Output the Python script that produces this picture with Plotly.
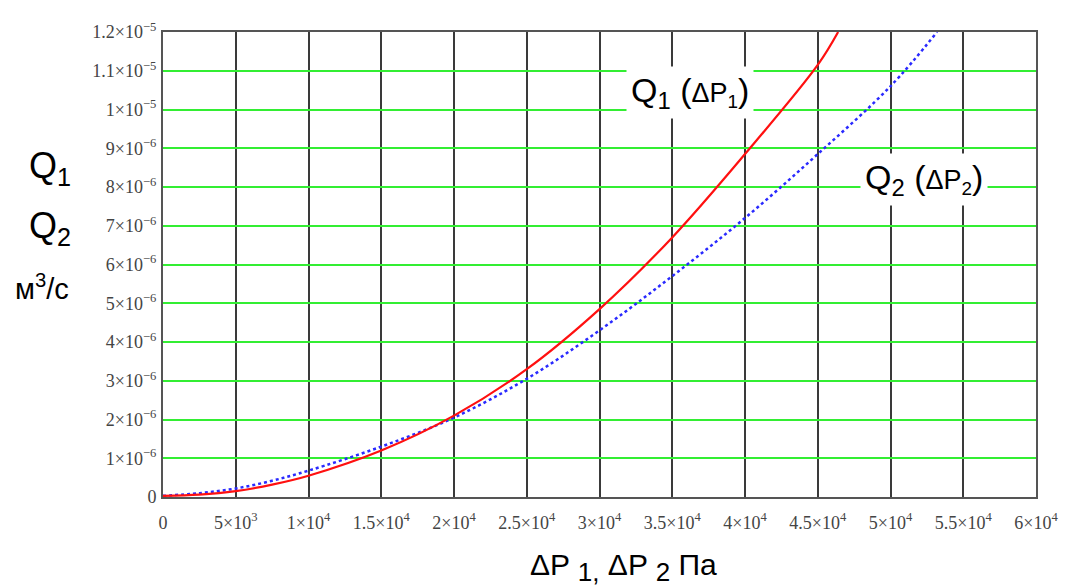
import plotly.graph_objects as go

# Data
dp1 = [0, 2500, 5000, 7500, 10000, 15000, 20000, 25000, 30000, 35000, 40000, 45000, 46400]
q1 = [0.03e-6, 0.06e-6, 0.15e-6, 0.32e-6, 0.55e-6, 1.2e-6, 2.1e-6, 3.3e-6, 4.85e-6, 6.7e-6, 8.85e-6, 11.15e-6, 12.0e-6]

dp2 = [0, 2500, 5000, 7500, 10000, 15000, 20000, 25000, 30000, 35000, 40000, 45000, 50000, 53200]
q2 = [0.03e-6, 0.1e-6, 0.22e-6, 0.42e-6, 0.68e-6, 1.3e-6, 2.05e-6, 3.05e-6, 4.3e-6, 5.7e-6, 7.2e-6, 8.85e-6, 10.6e-6, 12.0e-6]

x_tickvals = [0, 5000, 10000, 15000, 20000, 25000, 30000, 35000, 40000, 45000, 50000, 55000, 60000]
x_ticktext = ["0", "5×10<sup>3</sup>", "1×10<sup>4</sup>", "1.5×10<sup>4</sup>", "2×10<sup>4</sup>",
              "2.5×10<sup>4</sup>", "3×10<sup>4</sup>", "3.5×10<sup>4</sup>", "4×10<sup>4</sup>",
              "4.5×10<sup>4</sup>", "5×10<sup>4</sup>", "5.5×10<sup>4</sup>", "6×10<sup>4</sup>"]

y_tickvals = [0, 1e-6, 2e-6, 3e-6, 4e-6, 5e-6, 6e-6, 7e-6, 8e-6, 9e-6, 1e-5, 1.1e-5, 1.2e-5]
y_ticktext = ["0", "1×10<sup>−6</sup>", "2×10<sup>−6</sup>", "3×10<sup>−6</sup>", "4×10<sup>−6</sup>",
              "5×10<sup>−6</sup>", "6×10<sup>−6</sup>", "7×10<sup>−6</sup>", "8×10<sup>−6</sup>",
              "9×10<sup>−6</sup>", "1×10<sup>−5</sup>", "1.1×10<sup>−5</sup>", "1.2×10<sup>−5</sup>"]

fig = go.Figure()
fig.add_trace(go.Scatter(x=dp2, y=q2, mode="lines", line=dict(color="#2a2aff", width=2.5, dash="dot", shape="spline"),
                         showlegend=False))
fig.add_trace(go.Scatter(x=dp1, y=q1, mode="lines", line=dict(color="#ff1010", width=2.2, shape="spline"),
                         showlegend=False))

tickfont = dict(family="Liberation Serif", size=18, color="#444")
fig.update_xaxes(range=[0, 60000], tickvals=x_tickvals, ticktext=x_ticktext, tickfont=tickfont,
                 showgrid=True, gridcolor="#3a3a3a", gridwidth=1.5, zeroline=False,
                 showline=True, linecolor="#555", linewidth=2, mirror=True, ticks="", ticklabelstandoff=8)
fig.update_yaxes(range=[0, 1.2e-5], tickvals=y_tickvals, ticktext=y_ticktext, tickfont=tickfont,
                 showgrid=True, gridcolor="#33ee33", gridwidth=2, zeroline=False,
                 showline=True, linecolor="#555", linewidth=2, mirror=True, ticks="", ticklabelstandoff=1)

# plot area in page pixels (body offset of 8px included)
PL, PR, PT, PB = 163, 1045, 28, 497
lab = dict(family="Liberation Sans", color="black")
annotations = [
    dict(x=26, y=165, text="Q<sub>1</sub>", font=dict(size=36, **lab)),
    dict(x=26, y=226, text="Q<sub>2</sub>", font=dict(size=36, **lab)),
    dict(x=11, y=285, text="м<sup>3</sup>/с", font=dict(size=29, **lab)),
    dict(x=532, y=568,
         text="ΔP <sub><span style='font-size:26px'>1,</span></sub> ΔP <sub><span style='font-size:26px'>2</span></sub> Па",
         font=dict(size=30, **lab)),
]
for a in annotations:
    a.update(xref="paper", yref="paper", xanchor="left", yanchor="middle", showarrow=False)
    a["x"] = (a["x"] - PL) / (PR - PL)
    a["y"] = (PB - a["y"]) / (PB - PT)

annotations += [
    dict(x=36200, y=10.45e-6, xref="x", yref="y",
         text="Q<sub>1</sub>&nbsp;(<span style='font-size:27px'>ΔP<sub>1</sub></span>)",
         font=dict(size=34, **lab), showarrow=False, bgcolor="white", borderpad=4),
    dict(x=52300, y=8.2e-6, xref="x", yref="y",
         text="Q<sub>2</sub>&nbsp;(<span style='font-size:27px'>ΔP<sub>2</sub></span>)",
         font=dict(size=34, **lab), showarrow=False, bgcolor="white", borderpad=4),
]

fig.update_layout(width=1062, height=578, margin=dict(l=PL - 8, r=1070 - PR, t=PT - 8, b=586 - PB),
                  plot_bgcolor="white", paper_bgcolor="white", annotations=annotations)
fig.write_html("out.html")
